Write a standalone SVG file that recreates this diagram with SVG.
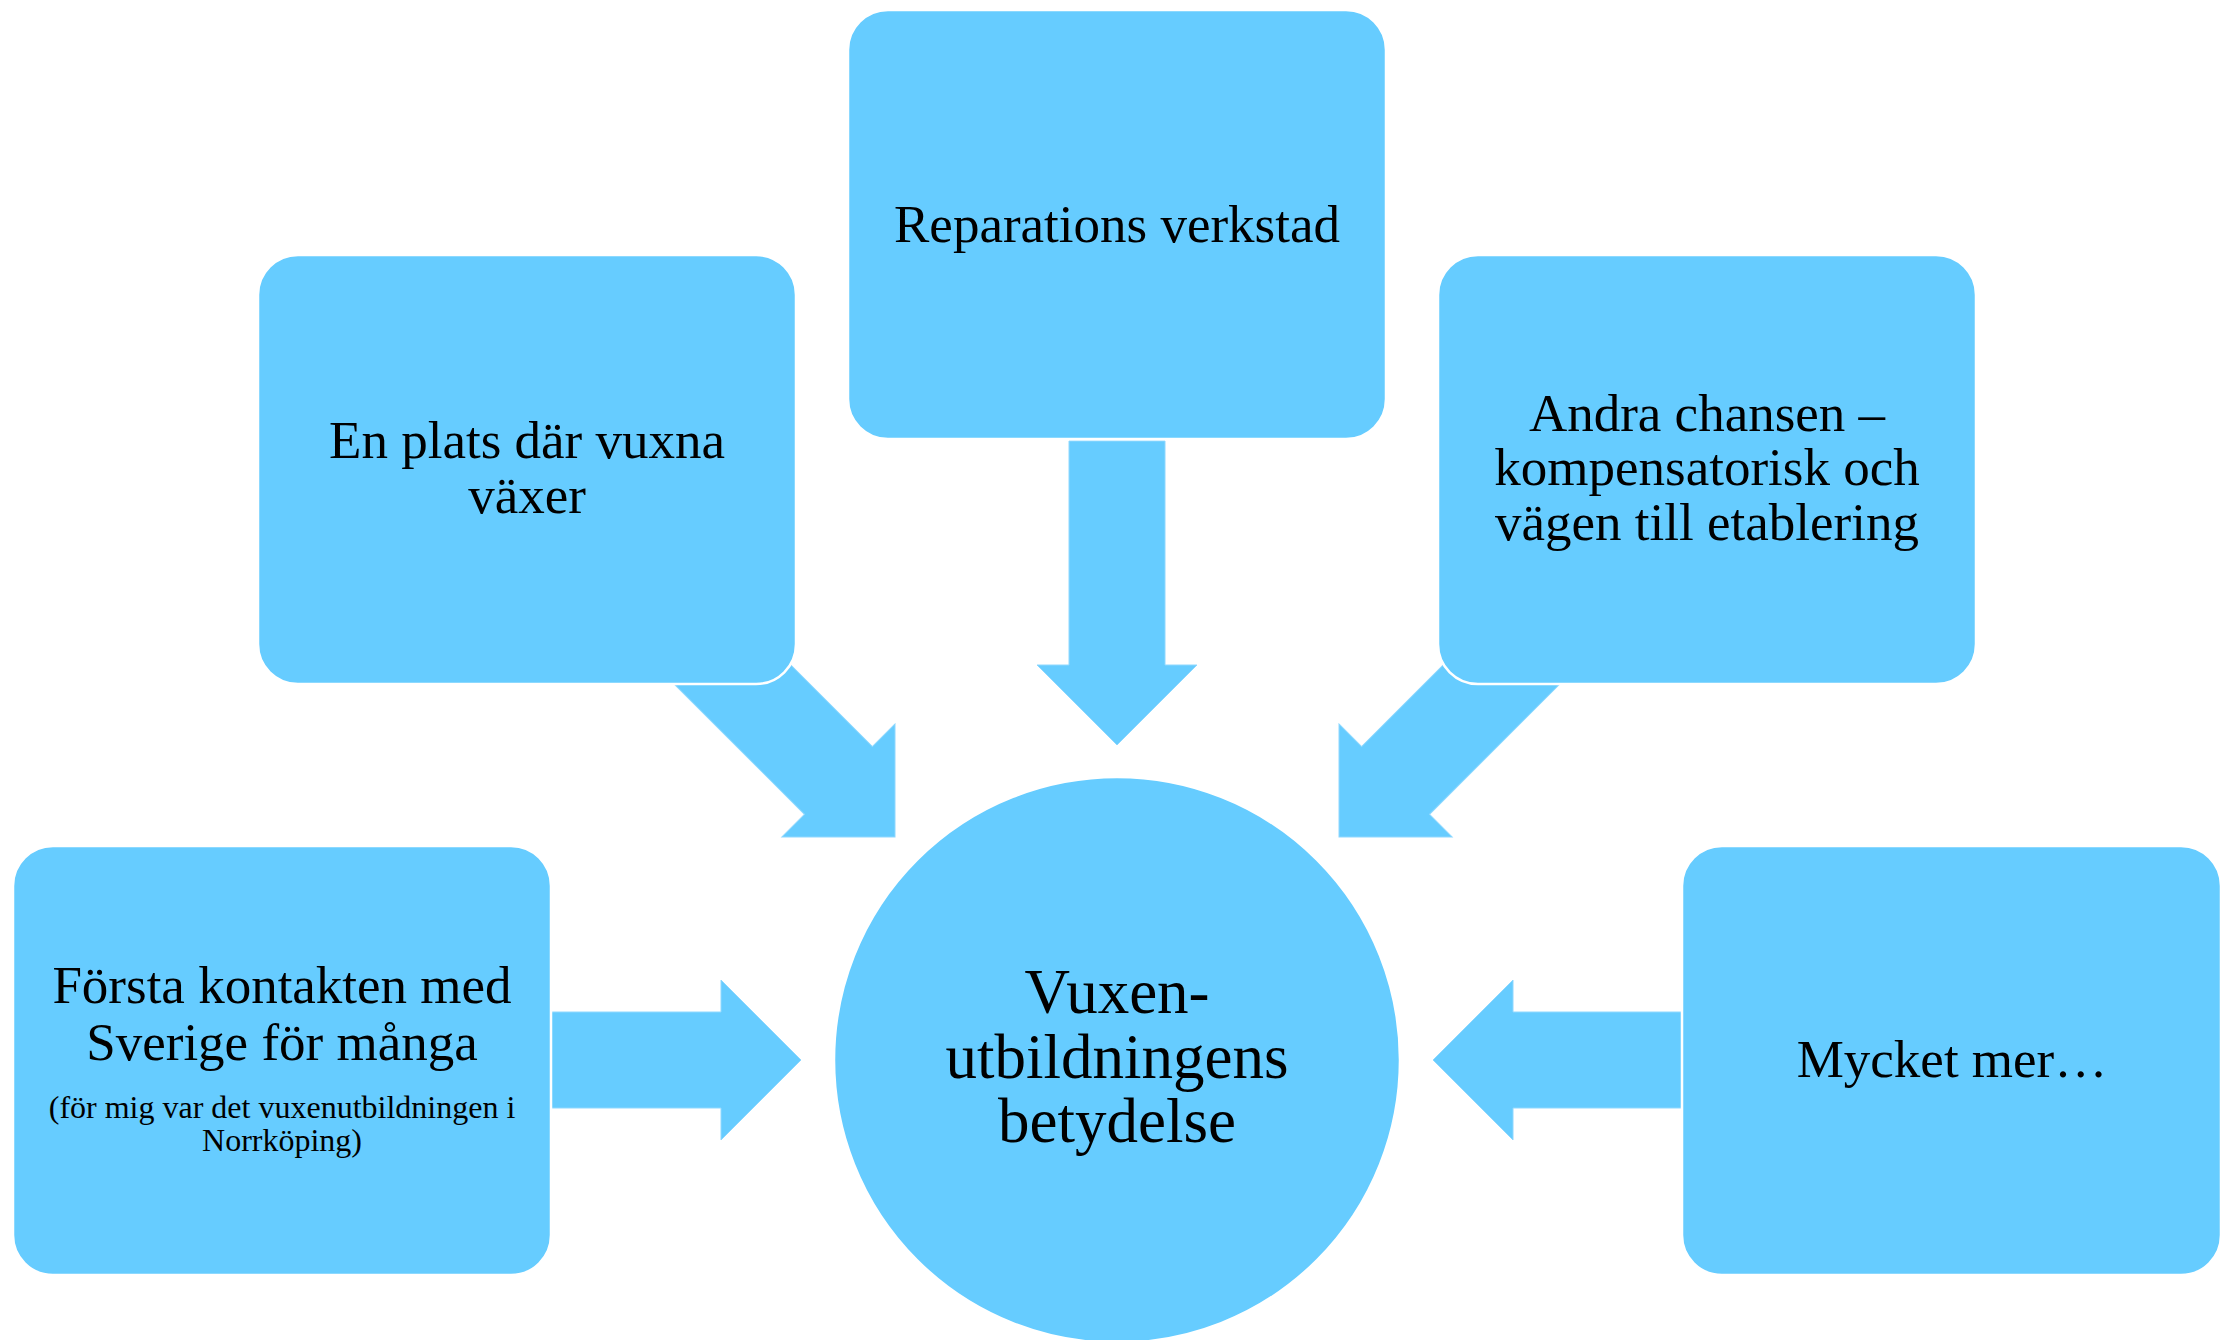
<svg xmlns="http://www.w3.org/2000/svg" width="2236" height="1340" viewBox="0 0 2236 1340">
  <style>
    .box { fill: #66CCFF; stroke: #FFFFFF; stroke-width: 2.5; }
    .arrow { fill: #66CCFF; stroke: #8FD8FF; stroke-width: 1; }
    .t { font-family: "Liberation Serif", "Times New Roman", serif; fill: #000000; text-anchor: middle; }
    .big { font-size: 53px; }
    .center { font-size: 63px; }
    .small { font-size: 32px; }
  </style>
  <defs>
    <path id="arr250" d="M -250,-48 L -80,-48 L -80,-80 L 0,0 L -80,80 L -80,48 L -250,48 Z"/>
    <path id="arr302" d="M -302,-48 L -80,-48 L -80,-80 L 0,0 L -80,80 L -80,48 L -302,48 Z"/>
    <path id="arr304" d="M -304,-48 L -80,-48 L -80,-80 L 0,0 L -80,80 L -80,48 L -304,48 Z"/>
  </defs>
  <rect width="2236" height="1340" fill="#FFFFFF"/>

  <g id="connectors">
    <use href="#arr304" class="arrow" transform="translate(1117,745) rotate(90)"/>
    <use href="#arr302" class="arrow" transform="translate(895,837) rotate(45)"/>
    <use href="#arr302" class="arrow" transform="translate(1339,837) rotate(135)"/>
    <use href="#arr250" class="arrow" transform="translate(801,1060)"/>
    <use href="#arr250" class="arrow" transform="translate(1433,1060) rotate(180)"/>
  </g>

  <g id="node-center">
    <circle class="box" cx="1117" cy="1060" r="283"/>
    <text class="t center" x="1117" y="1013">Vuxen-</text>
    <text class="t center" x="1117" y="1078">utbildningens</text>
    <text class="t center" x="1117" y="1142">betydelse</text>
  </g>

  <g id="node-top">
    <rect class="box" x="848" y="10" width="538" height="429" rx="40" ry="40"/>
    <text class="t big" x="1117" y="242">Reparations verkstad</text>
  </g>

  <g id="node-upper-left">
    <rect class="box" x="258" y="255" width="538" height="429" rx="40" ry="40"/>
    <text class="t big" x="527" y="458">En plats där vuxna</text>
    <text class="t big" x="527" y="513">växer</text>
  </g>

  <g id="node-upper-right">
    <rect class="box" x="1438" y="255" width="538" height="429" rx="40" ry="40"/>
    <text class="t big" x="1707" y="431">Andra chansen –</text>
    <text class="t big" x="1707" y="485">kompensatorisk och</text>
    <text class="t big" x="1707" y="540">vägen till etablering</text>
  </g>

  <g id="node-lower-left">
    <rect class="box" x="13" y="846" width="538" height="429" rx="40" ry="40"/>
    <text class="t big" x="282" y="1003">Första kontakten med</text>
    <text class="t big" x="282" y="1060">Sverige för många</text>
    <text class="t small" x="282" y="1118">(för mig var det vuxenutbildningen i</text>
    <text class="t small" x="282" y="1151">Norrköping)</text>
  </g>

  <g id="node-lower-right">
    <rect class="box" x="1682" y="846" width="539" height="429" rx="40" ry="40"/>
    <text class="t big" x="1952" y="1077">Mycket mer…</text>
  </g>
</svg>
